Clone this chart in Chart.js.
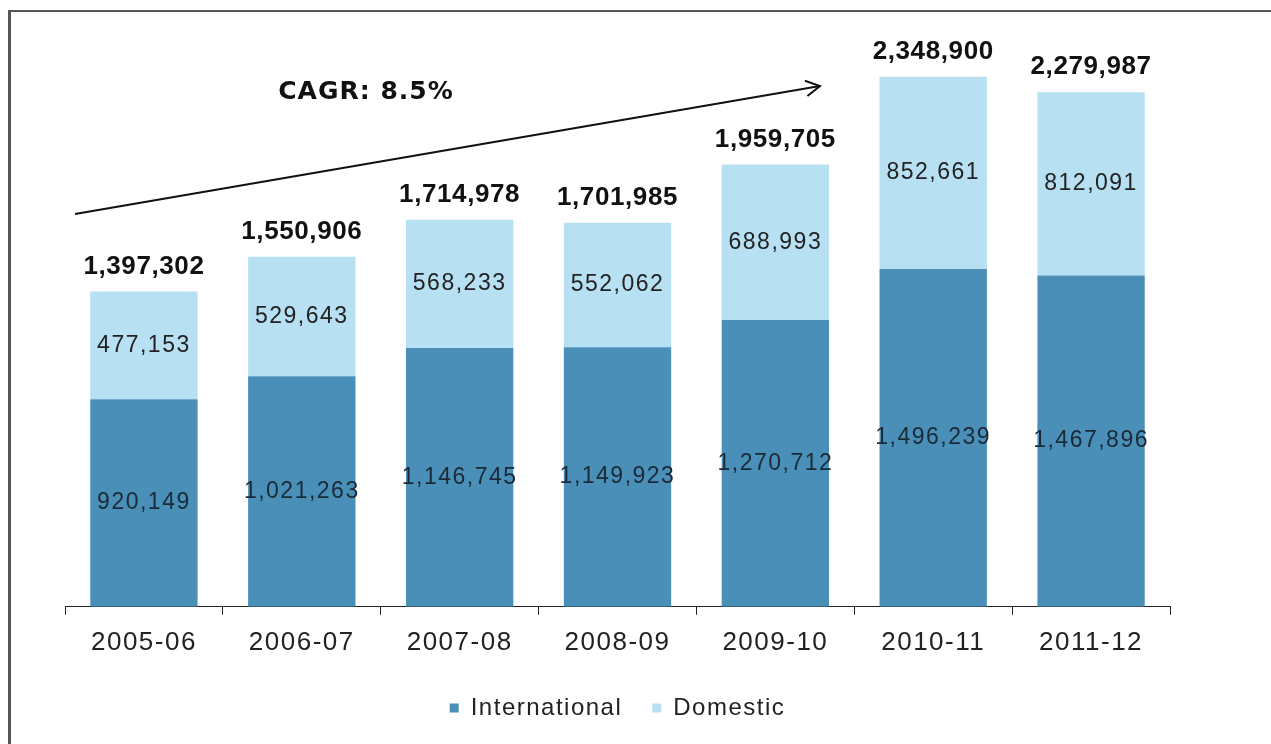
<!DOCTYPE html>
<html>
<head>
<meta charset="utf-8">
<script src="https://cdn.jsdelivr.net/npm/chart.js@4.4.1/dist/chart.umd.min.js"></script>
<style>
  html, body { margin: 0; padding: 0; background: #fff; }
  #wrap { width: 1271px; height: 744px; position: relative; }
</style>
</head>
<body>
<div id="wrap"><canvas id="chartId" width="1271" height="744"></canvas></div>
<script>
// passenger numbers per financial year
var years = ['2005-06', '2006-07', '2007-08', '2008-09', '2009-10', '2010-11', '2011-12'];
var international = [920149, 1021263, 1146745, 1149923, 1270712, 1496239, 1467896];
var domestic = [477153, 529643, 568233, 552062, 688993, 852661, 812091];
var totals = [1397302, 1550906, 1714978, 1701985, 1959705, 2348900, 2279987];
var cagrText = 'CAGR: 8.5%';

var fmt = function (v) { return v.toLocaleString('en-US'); };

// text in this chart is drawn a little wide, so space the letters out
var spacing = {
	id: 'spacing',
	beforeUpdate: function (chart) { chart.ctx.letterSpacing = '1.5px'; },
	beforeDraw: function (chart) { chart.ctx.letterSpacing = '1.5px'; }
};

// outer frame (top and left edge)
var frame = {
	id: 'frame',
	beforeDraw: function (chart) {
		var ctx = chart.ctx;
		ctx.save();
		ctx.strokeStyle = '#555';
		ctx.lineWidth = 2;
		ctx.beginPath();
		ctx.moveTo(8, 11);
		ctx.lineTo(1271, 11);
		ctx.stroke();
		ctx.lineWidth = 3;
		ctx.beginPath();
		ctx.moveTo(9.5, 10);
		ctx.lineTo(9.5, 744);
		ctx.stroke();
		ctx.restore();
	}
};

// segment values, bar totals and the growth arrow
var labels = {
	id: 'labels',
	afterDatasetsDraw: function (chart) {
		var ctx = chart.ctx;
		ctx.save();
		ctx.textAlign = 'center';
		ctx.textBaseline = 'middle';

		ctx.font = '23px "Liberation Sans", Arial, sans-serif';
		ctx.letterSpacing = '1.5px';
		chart.data.datasets.forEach(function (ds, di) {
			var meta = chart.getDatasetMeta(di);
			ctx.fillStyle = di === 0 ? '#1b2a36' : '#222';
			meta.data.forEach(function (bar, i) {
				ctx.fillText(fmt(ds.data[i]), bar.x, (bar.y + bar.base) / 2);
			});
		});

		var top = chart.getDatasetMeta(1);
		ctx.font = 'bold 26px "Liberation Sans", Arial, sans-serif';
		ctx.letterSpacing = '0.6px';
		ctx.fillStyle = '#111';
		top.data.forEach(function (bar, i) {
			ctx.fillText(fmt(totals[i]), bar.x, bar.y - 25);
		});

		// CAGR arrow
		var x0 = 75, y0 = 214, x1 = 820, y1 = 86;
		var ang = Math.atan2(y1 - y0, x1 - x0);
		ctx.strokeStyle = '#111';
		ctx.lineWidth = 2;
		ctx.beginPath();
		ctx.moveTo(x0, y0);
		ctx.lineTo(x1, y1);
		ctx.stroke();
		ctx.beginPath();
		ctx.moveTo(x1 - 16 * Math.cos(ang - 0.5), y1 - 16 * Math.sin(ang - 0.5));
		ctx.lineTo(x1, y1);
		ctx.lineTo(x1 - 16 * Math.cos(ang + 0.5), y1 - 16 * Math.sin(ang + 0.5));
		ctx.stroke();

		ctx.font = 'bold 25px "DejaVu Sans", Verdana, sans-serif';
		ctx.letterSpacing = '1px';
		ctx.fillText(cagrText, 366, 92);
		ctx.restore();
	}
};

var chrt = document.getElementById('chartId').getContext('2d');
var chartId = new Chart(chrt, {
	type: 'bar',
	data: {
		labels: years,
		datasets: [{
			label: 'International',
			data: international,
			backgroundColor: '#4a8fb8',
			borderWidth: 0
		}, {
			label: 'Domestic',
			data: domestic,
			backgroundColor: '#b7e0f2',
			borderWidth: 0
		}]
	},
	options: {
		responsive: false,
		animation: false,
		barPercentage: 0.68,
		categoryPercentage: 1,
		layout: {
			padding: { top: 20, left: 65, right: 101, bottom: 14 }
		},
		plugins: {
			legend: {
				position: 'bottom',
				labels: {
					boxWidth: 9,
					boxHeight: 9,
					padding: 30,
					color: '#222',
					font: { family: '"Liberation Sans", Arial, sans-serif', size: 24 }
				}
			},
			tooltip: { enabled: false }
		},
		scales: {
			x: {
				stacked: true,
				grid: {
					display: true,
					drawOnChartArea: false,
					offset: true,
					tickLength: 8,
					color: '#222'
				},
				border: { display: true, color: '#222', width: 1 },
				ticks: {
					padding: 12,
					color: '#222',
					font: { family: '"Liberation Sans", Arial, sans-serif', size: 26 }
				},
				afterFit: function (scale) { scale.height -= 4; }
			},
			y: {
				stacked: true,
				display: false,
				min: 0,
				max: 2600000
			}
		}
	},
	plugins: [spacing, frame, labels]
});
</script>
</body>
</html>
